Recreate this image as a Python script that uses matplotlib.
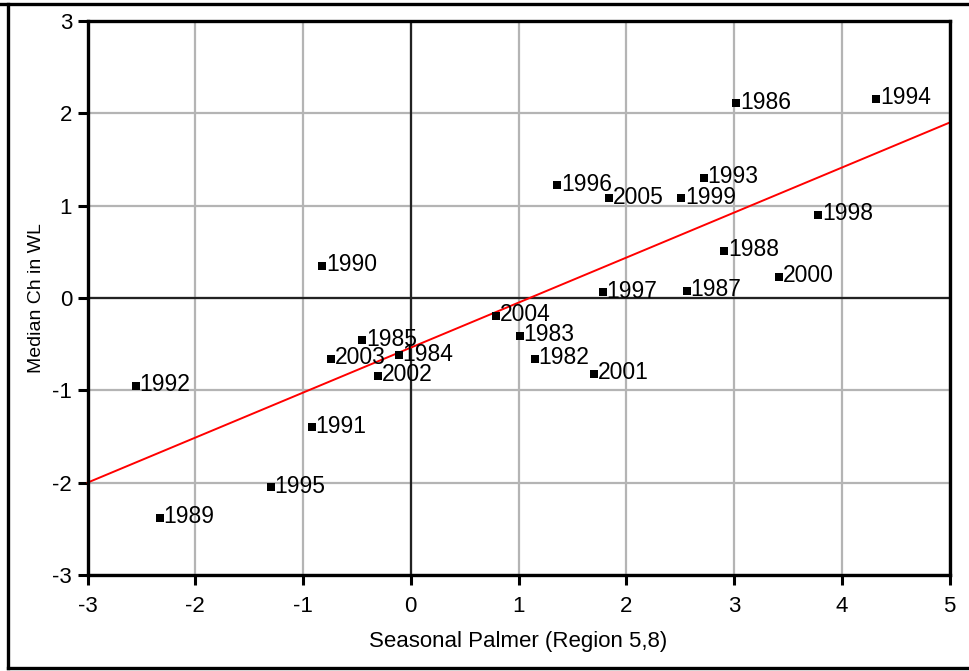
import matplotlib
matplotlib.use("Agg")
import matplotlib.pyplot as plt
from matplotlib.lines import Line2D

plt.rcParams['font.family'] = ['Liberation Sans', 'DejaVu Sans']

# Seasonal Palmer index vs median change in water level, by year
years = ["1986", "1994", "1996", "2005", "1999", "1993", "1998", "1988",
         "2000", "1997", "1987", "2004", "1983", "1982", "2001", "1990",
         "1985", "2003", "1984", "2002", "1992", "1991", "1995", "1989"]
palmer = [3.02, 4.32, 1.36, 1.84, 2.51, 2.72, 3.78, 2.91,
          3.42, 1.78, 2.56, 0.79, 1.01, 1.15, 1.70, -0.82,
          -0.45, -0.74, -0.11, -0.30, -2.55, -0.92, -1.30, -2.33]
median_ch = [2.11, 2.16, 1.22, 1.08, 1.08, 1.30, 0.90, 0.51,
             0.23, 0.06, 0.08, -0.19, -0.41, -0.66, -0.82, 0.35,
             -0.46, -0.66, -0.62, -0.84, -0.95, -1.40, -2.05, -2.38]

# Fitted trend line
fit_slope = 0.4875
fit_intercept = -0.5375
fit_x = [-3, 5]

x_ticks = [-3, -2, -1, 0, 1, 2, 3, 4, 5]
y_ticks = [-3, -2, -1, 0, 1, 2, 3]

fig = plt.figure(figsize=(9.69, 6.71), dpi=100)
ax = fig.add_axes([0.0903, 0.1431, 0.8897, 0.8256])

ax.set_xlim(-3, 5)
ax.set_ylim(-3, 3)
ax.set_xticks(x_ticks)
ax.set_yticks(y_ticks)
ax.set_xticklabels([str(t) for t in x_ticks])
ax.set_yticklabels([str(t) for t in y_ticks])

ax.grid(True, color='#b4b4b4', linewidth=1.6, zorder=0)
ax.set_axisbelow(True)
ax.axhline(0, color='#222222', linewidth=1.6, zorder=1)
ax.axvline(0, color='#222222', linewidth=1.6, zorder=1)

for s in ax.spines.values():
    s.set_linewidth(2.4)
    s.set_color('black')
ax.tick_params(axis='both', direction='out', length=7, width=2.2,
               labelsize=16, color='black')
ax.tick_params(axis='x', pad=8)
ax.tick_params(axis='y', pad=4)

fit_y = [fit_slope * v + fit_intercept for v in fit_x]
ax.plot(fit_x, fit_y, color='#ff0000', linewidth=1.4, zorder=2, clip_on=False)

ax.scatter(palmer, median_ch, marker='s', s=40, color='black', zorder=3,
           linewidths=0)
for yr, xv, yv in zip(years, palmer, median_ch):
    ax.annotate(yr, (xv, yv), xytext=(2.6, 0.8), textcoords='offset points',
                ha='left', va='center', fontsize=16.5, zorder=4)

ax.set_xlabel("Seasonal Palmer (Region 5,8)", fontsize=16, labelpad=10)
ax.set_ylabel("Median Ch in WL", fontsize=14, labelpad=5)

# page frame
frame_kw = dict(color='black', linewidth=2.4, transform=fig.transFigure,
                clip_on=False)
fig.add_artist(Line2D([8 / 969, 8 / 969], [1 - 4 / 671, 1 - 668 / 671], **frame_kw))
fig.add_artist(Line2D([0, 1], [1 - 4 / 671, 1 - 4 / 671], **frame_kw))
fig.add_artist(Line2D([8 / 969, 1], [1 - 668 / 671, 1 - 668 / 671], **frame_kw))

fig.savefig("out.png", dpi=100)
